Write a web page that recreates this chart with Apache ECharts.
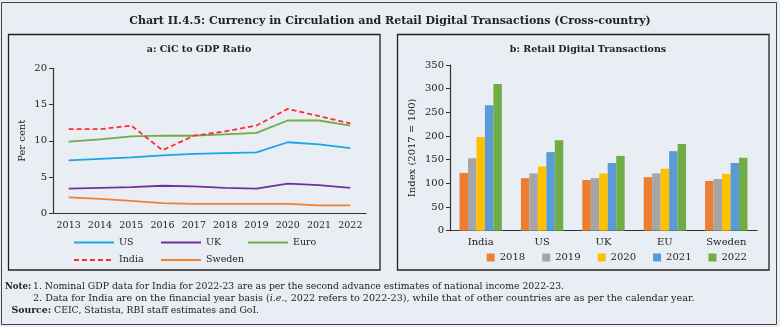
<!DOCTYPE html>
<html><head><meta charset="utf-8">
<script src="https://cdn.jsdelivr.net/npm/echarts@6/dist/echarts.min.js"></script>
<style>html,body{margin:0;padding:0;background:#e9eef5;}#c{width:780px;height:327px;}</style>
</head><body><div id="c"></div>
<script>
// ---- data ----
const years = ['2013','2014','2015','2016','2017','2018','2019','2020','2021','2022'];
const usCiC     = [7.3, 7.5, 7.7, 8.0, 8.2, 8.3, 8.4, 9.8, 9.5, 9.0];
const ukCiC     = [3.4, 3.5, 3.6, 3.8, 3.7, 3.5, 3.4, 4.1, 3.9, 3.5];
const euroCiC   = [9.9, 10.2, 10.6, 10.7, 10.7, 10.9, 11.1, 12.8, 12.8, 12.1];
const indiaCiC  = [11.6, 11.6, 12.1, 8.7, 10.7, 11.3, 12.1, 14.4, 13.4, 12.4];
const swedenCiC = [2.2, 2.0, 1.7, 1.4, 1.3, 1.3, 1.3, 1.3, 1.1, 1.1];

const countries = ['India','US','UK','EU','Sweden'];
const idx2018 = [122, 111, 107, 113, 105];
const idx2019 = [153, 121, 111, 121, 109];
const idx2020 = [198, 136, 121, 131, 120];
const idx2021 = [265, 166, 143, 168, 143];
const idx2022 = [310, 191, 158, 183, 154];

const font = 'DejaVu Serif';
const axisCol = '#333';
const txt = '#222';
const chart = echarts.init(document.getElementById('c'), null, {renderer:'canvas'});

function lineS(name, data, color, dashed){
  return {name, type:'line', xAxisIndex:0, yAxisIndex:0, data, symbol:'none', smooth:false,
    lineStyle:{color, width:1.8, type: dashed ? [5,3] : 'solid'}, itemStyle:{color}};
}
function barS(name, data, color){
  return {name, type:'bar', xAxisIndex:1, yAxisIndex:1, data, itemStyle:{color},
    barGap:'0%', barCategoryGap:'31%'};
}
function lineLegend(name, left, top){
  return {data:[name], left, top, padding:0, itemWidth:40, itemHeight:12, itemGap:2,
    itemStyle:{opacity:0}, textStyle:{fontFamily:font, fontSize:9.5, color:txt}};
}
const axisLabel = {fontFamily:font, fontSize:9.5, color:txt};

chart.setOption({
  backgroundColor:'#e9eef5',
  animation:false,
  title:[
    {text:'Chart II.4.5: Currency in Circulation and Retail Digital Transactions (Cross-country)',
     left:'center', top:11, textStyle:{fontFamily:font, fontWeight:'bold', fontSize:11, color:txt}},
    {text:'a: CiC to GDP Ratio', left:194, textAlign:'center', top:40,
     textStyle:{fontFamily:font, fontWeight:'bold', fontSize:9.5, color:txt}},
    {text:'b: Retail Digital Transactions', left:583, textAlign:'center', top:40,
     textStyle:{fontFamily:font, fontWeight:'bold', fontSize:9.5, color:txt}}
  ],
  grid:[
    {left:53, right:414, top:68.3, bottom:113.7},
    {left:450, right:23, top:65, bottom:96.3}
  ],
  xAxis:[
    {type:'category', gridIndex:0, data:years, boundaryGap:true,
     axisLine:{lineStyle:{color:axisCol, width:1.2}}, axisTick:{lineStyle:{color:axisCol}, length:4},
     axisLabel:Object.assign({margin:7, interval:0}, axisLabel)},
    {type:'category', gridIndex:1, data:countries,
     axisLine:{lineStyle:{color:axisCol, width:1.2}}, axisTick:{lineStyle:{color:axisCol}, length:4},
     axisLabel:Object.assign({margin:7, interval:0}, axisLabel, {fontSize:10})}
  ],
  yAxis:[
    {type:'value', gridIndex:0, min:0, max:20, interval:5,
     name:'Per cent', nameLocation:'middle', nameGap:26, nameRotate:90,
     nameTextStyle:{fontFamily:font, fontSize:10, color:txt},
     axisLine:{show:true, lineStyle:{color:axisCol, width:1.2}},
     axisTick:{show:true, length:4, lineStyle:{color:axisCol}},
     splitLine:{show:false}, axisLabel:Object.assign({margin:6}, axisLabel, {fontSize:10})},
    {type:'value', gridIndex:1, min:0, max:350, interval:50,
     name:'Index (2017 = 100)', nameLocation:'middle', nameGap:33, nameRotate:90,
     nameTextStyle:{fontFamily:font, fontSize:10, color:txt},
     axisLine:{show:true, lineStyle:{color:axisCol, width:1.2}},
     axisTick:{show:true, length:4, lineStyle:{color:axisCol}},
     splitLine:{show:false}, axisLabel:Object.assign({margin:6}, axisLabel, {fontSize:10})}
  ],
  legend:[
    lineLegend('US', 73, 237.5),
    lineLegend('UK', 160, 237.5),
    lineLegend('Euro', 247, 237.5),
    lineLegend('India', 73, 255),
    lineLegend('Sweden', 160, 255),
    {data:['2018','2019','2020','2021','2022'], left:486.7, top:252.5, padding:0, itemWidth:8, itemHeight:8, itemGap:17,
     icon:'rect', textStyle:{fontFamily:font, fontSize:10, color:txt}}
  ],
  series:[
    lineS('US', usCiC, '#1da6e2'),
    lineS('UK', ukCiC, '#7030a0'),
    lineS('Euro', euroCiC, '#70ad47'),
    lineS('India', indiaCiC, '#ff2d2d', true),
    lineS('Sweden', swedenCiC, '#f0822d'),
    barS('2018', idx2018, '#ed7d31'),
    barS('2019', idx2019, '#a5a5a5'),
    barS('2020', idx2020, '#ffc000'),
    barS('2021', idx2021, '#5b9bd5'),
    barS('2022', idx2022, '#70ad47')
  ],
  graphic:[
    {type:'rect', shape:{x:1.5, y:2.5, width:775, height:322}, style:{fill:null, stroke:'#444', lineWidth:1}, silent:true, z:-1},
    {type:'rect', shape:{x:8.5, y:34.5, width:371.5, height:235.5}, style:{fill:null, stroke:'#222', lineWidth:1.3}, silent:true},
    {type:'rect', shape:{x:397.5, y:34.5, width:371.5, height:235.5}, style:{fill:null, stroke:'#222', lineWidth:1.3}, silent:true},
    {type:'text', x:5, y:286.3, style:{text:'Note:', font:'bold 8.6px "DejaVu Serif"', fill:txt, verticalAlign:'middle'}},
    {type:'text', x:33, y:286.3, style:{text:'1. Nominal GDP data for India for 2022-23 are as per the second advance estimates of national income 2022-23.',
      font:'9.3px "DejaVu Serif"', fill:txt, verticalAlign:'middle'}},
    {type:'text', x:33, y:298.7, style:{text:'2. Data for India are on the financial year basis ({i|i.e.}, 2022 refers to 2022-23), while that of other countries are as per the calendar year.',
      font:'9.6px "DejaVu Serif"', fill:txt, verticalAlign:'middle', rich:{i:{fontStyle:'italic', fontFamily:'DejaVu Serif', fontSize:9.6}}}},
    {type:'text', x:11.5, y:310.3, style:{text:'{b|Source:} CEIC, Statista, RBI staff estimates and GoI.',
      font:'9.3px "DejaVu Serif"', fill:txt, verticalAlign:'middle', rich:{b:{fontWeight:'bold', fontFamily:'DejaVu Serif', fontSize:9.3}}}}
  ]
});
</script></body></html>
